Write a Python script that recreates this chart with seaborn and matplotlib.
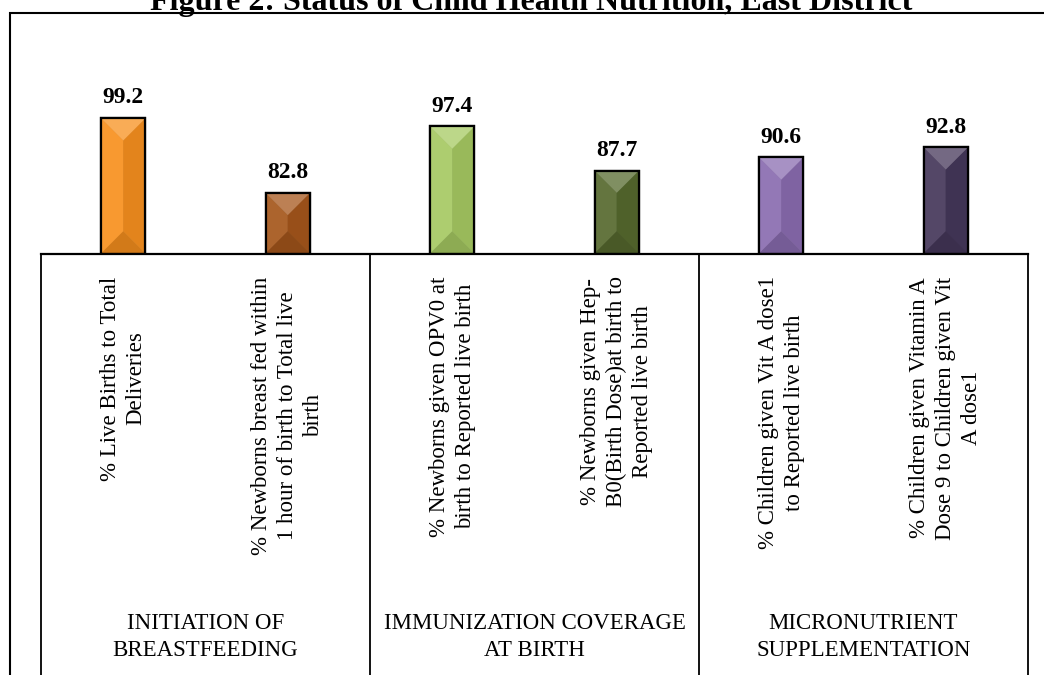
import pandas as pd
import numpy as np
import matplotlib
matplotlib.use("Agg")
import matplotlib.pyplot as plt
import matplotlib.colors as mcolors
from matplotlib.patches import Rectangle, Polygon
import seaborn as sns

# chart data
indicators = [
    "% Live Births to Total\nDeliveries",
    "% Newborns breast fed within\n1 hour of birth to Total live\nbirth",
    "% Newborns given OPV0 at\nbirth to Reported live birth",
    "% Newborns given Hep-\nB0(Birth Dose)at birth to\nReported live birth",
    "% Children given Vit A dose1\nto Reported live birth",
    "% Children given Vitamin A\nDose 9 to Children given Vit\nA dose1",
]
values = [99.2, 82.8, 97.4, 87.7, 90.6, 92.8]
groups = [
    "INITIATION OF\nBREASTFEEDING",
    "IMMUNIZATION COVERAGE\nAT BIRTH",
    "MICRONUTRIENT\nSUPPLEMENTATION",
]
bar_colors = ["#F7901E", "#A5561B", "#A6C962", "#56692E", "#8A6CB0", "#45375A"]
title = "Figure 2: Status of Child Health Nutrition, East District"

df = pd.DataFrame({"indicator": indicators, "value": values})

sns.set_style("white")
plt.rcParams["font.family"] = ["Liberation Serif", "DejaVu Serif"]
plt.rcParams["text.color"] = "black"

W, H = 1044, 675
fig = plt.figure(figsize=(W / 100, H / 100), dpi=100)

# plot area placed in pixel terms
base_y = 253.5
top_y = 20
ax = fig.add_axes([41 / W, (H - base_y) / H, (1028 - 41) / W, (base_y - top_y) / H])

ymin = 69.5
px_per_unit = 4.555
ymax = ymin + (base_y - top_y) / px_per_unit

sns.barplot(
    data=df, x="indicator", y="value", hue="indicator",
    palette=bar_colors, width=0.27, edgecolor="black", linewidth=1.6,
    legend=False, ax=ax, zorder=3,
)
ax.set_ylim(ymin, ymax)
ax.set_xlim(-0.5, len(indicators) - 0.5)

# bevel look on each bar
bar_w_px = 0.27 * (1028 - 41) / len(indicators)
depth = (bar_w_px / 2) / px_per_unit
for patch, col in zip(ax.patches, bar_colors):
    x0 = patch.get_x()
    w = patch.get_width()
    y0 = ymin
    y1 = patch.get_y() + patch.get_height()
    cx = x0 + w / 2
    rgb = np.array(mcolors.to_rgb(col))
    light = rgb + (1 - rgb) * 0.08
    dark = rgb * 0.92
    top = rgb + (1 - rgb) * 0.25
    bottom = rgb * 0.85
    faces = [
        ([(x0, y1), (cx, y1 - depth), (cx, y0 + depth), (x0, y0)], light),
        ([(x0 + w, y1), (cx, y1 - depth), (cx, y0 + depth), (x0 + w, y0)], dark),
        ([(x0, y1), (x0 + w, y1), (cx, y1 - depth)], top),
        ([(x0, y0), (x0 + w, y0), (cx, y0 + depth)], bottom),
    ]
    for pts, fc in faces:
        ax.add_patch(Polygon(pts, closed=True, facecolor=fc, edgecolor="none", zorder=3.5))
    ax.add_patch(Rectangle((x0, y0), w, y1 - y0, fill=False, edgecolor="black",
                           linewidth=1.6, zorder=4))

# value labels
for cont in ax.containers:
    ax.bar_label(cont, fmt="%.1f", padding=7, fontsize=17, fontweight="bold",
                 color="black", zorder=5)

ax.set_xlabel("")
ax.set_ylabel("")
ax.set_xticks([])
ax.set_yticks([])
for s in ["left", "right", "top"]:
    ax.spines[s].set_visible(False)
ax.spines["bottom"].set_color("black")
ax.spines["bottom"].set_linewidth(1.6)
ax.spines["bottom"].set_zorder(6)

# category labels, rotated
for i, lab in enumerate(indicators):
    ax.annotate(lab, xy=(i, 0), xycoords=("data", "axes fraction"),
                xytext=(0, -16.5), textcoords="offset points",
                rotation=90, ha="center", va="top", multialignment="center",
                fontsize=16.5, linespacing=1.3, color="black")

# group separators and group labels
for xb in [-0.5, 1.5, 3.5, 5.5]:
    ax.plot([xb, xb], [0, -3], color="black", linewidth=1.3,
            transform=ax.get_xaxis_transform(), clip_on=False)
for g, lab in enumerate(groups):
    ax.annotate(lab, xy=(2 * g + 0.5, 0), xycoords=("data", "axes fraction"),
                xytext=(0, -(637 - base_y) * 0.72), textcoords="offset points",
                ha="center", va="center", multialignment="center", fontsize=16.5,
                linespacing=1.35, color="black")

# outer chart frame
fig.add_artist(Rectangle((10 / W, -0.2), 1.2, (H - 13) / H + 0.2, fill=False,
                         edgecolor="black", linewidth=1.5, transform=fig.transFigure))

fig.text(531 / W, (H - 10) / H, title, ha="center", va="baseline",
         fontsize=23, fontweight="bold", color="black")

fig.savefig("out.png", dpi=100)
